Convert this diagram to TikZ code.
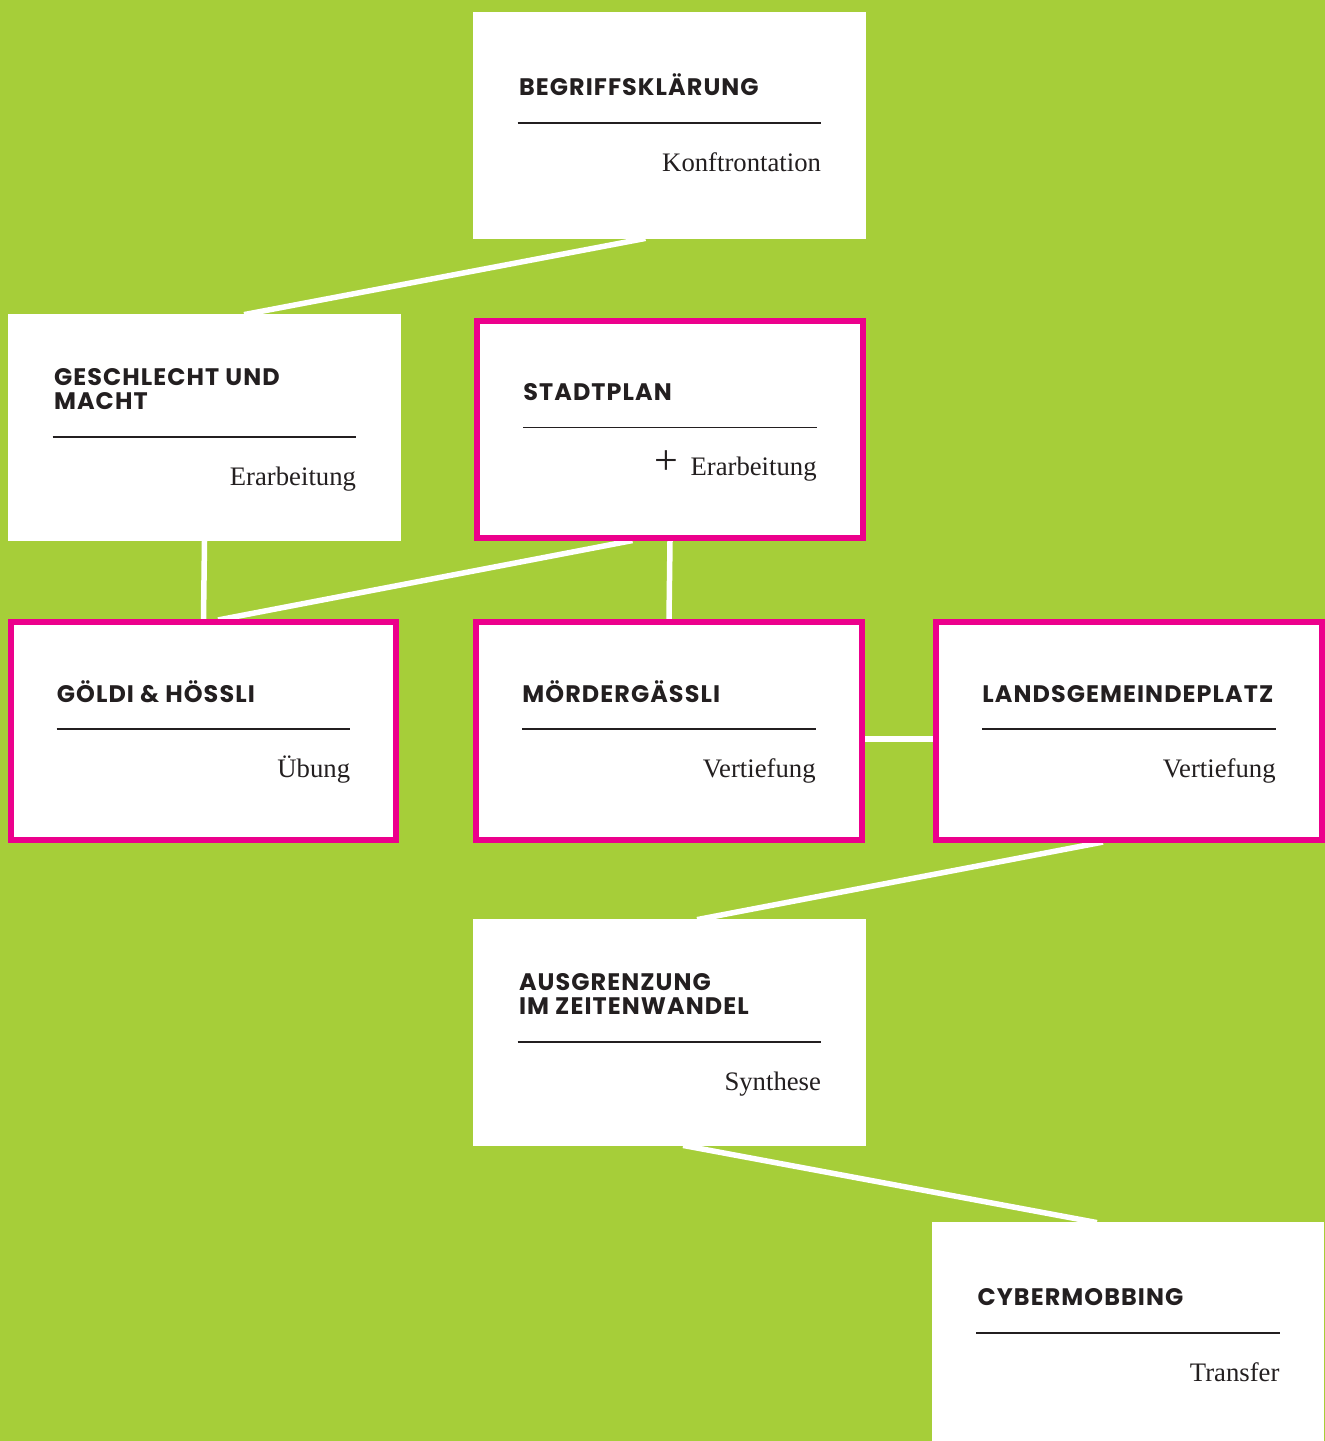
\documentclass[tikz,border=0pt]{standalone}
\usepackage{fontspec}
\setmainfont{Liberation Serif}
\setsansfont{Poppins}[LetterSpace=4.5]
\usepackage{tikz}
\usepackage{xcolor}
\usetikzlibrary{positioning, calc, backgrounds}
\definecolor{meadow}{HTML}{A6CE39}
\definecolor{signal}{HTML}{EC008C}
\definecolor{ink}{HTML}{231F20}
\tikzstyle{card} = [rectangle, fill=white, inner sep=0pt,
                    minimum width=7.86cm, minimum height=4.54cm]
\tikzstyle{stopbox} = [rectangle, fill=white, draw=signal, line width=0.12cm,
                       inner sep=0pt, minimum width=7.72cm, minimum height=4.36cm]
\tikzstyle{title} = [anchor=base west, inner sep=0pt, align=left, text=ink,
                     font=\sffamily\bfseries\fontsize{13.6}{13.6}\selectfont]
\tikzstyle{phase} = [anchor=base east, inner sep=0pt, text=ink,
                     font=\fontsize{15.2}{17}\selectfont]
\tikzstyle{divider} = [draw=ink, line width=0.035cm]
\tikzstyle{trail} = [draw=white, line width=0.11cm, shorten <=-0.1cm, shorten >=-0.1cm]

\begin{document}
\begin{tikzpicture}[x=0.02cm, y=-0.02cm]
    \useasboundingbox (0,0) rectangle (1325,1441);
    \begin{scope}[on background layer]
        \fill[meadow] (0,0) rectangle (1325,1441);
    \end{scope}

    % Stations
    \node[card] (klaerung) at (669.5,125.5) {};
    \node[card] (geschlecht) at (204.5,427.5) {};
    \node[stopbox] (stadtplan) at (670,429.5) {};
    \node[stopbox] (goeldi) at (203.5,731) {};
    \node[stopbox] (moerder) at (669,731) {};
    \node[stopbox] (landsgemeinde) at (1129,731) {};
    \node[card] (ausgrenzung) at (669.5,1032.5) {};
    \node[card] (cyber) at (1128,1335.5) {};

    % Begriffsklaerung
    \node[title] (klaerung-t) at ($(klaerung.north west)+(46,84)$) {BEGRIFFSKLÄRUNG};
    \draw[divider] ($(klaerung.north west)+(45,111)$) -- ($(klaerung.north east)+(-45,111)$);
    \node[phase] (klaerung-p) at ($(klaerung.north east)+(-45,160)$) {Konftrontation};

    % Geschlecht und Macht (base = last line)
    \node[title] (geschlecht-t) at ($(geschlecht.north west)+(46,96)$) {GESCHLECHT UND\\MACHT};
    \draw[divider] ($(geschlecht.north west)+(45,123)$) -- ($(geschlecht.north east)+(-45,123)$);
    \node[phase] (geschlecht-p) at ($(geschlecht.north east)+(-45,172)$) {Erarbeitung};

    % Stadtplan
    \node[title] (stadtplan-t) at ($(stadtplan.north west)+(49,83)$) {STADTPLAN};
    \draw[divider] ($(stadtplan.north west)+(49,110)$) -- ($(stadtplan.north east)+(-49,110)$);
    \node[phase] (stadtplan-p) at ($(stadtplan.north east)+(-49,158)$) {Erarbeitung};
    \node[phase, anchor=center, font=\fontsize{24}{24}\selectfont] (stadtplan-plus)
        at ($(stadtplan.north west)+(192,145)$) {+};

    % Goeldi & Hoessli
    \node[title] (goeldi-t) at ($(goeldi.north west)+(49,83)$) {GÖLDI \& HÖSSLI};
    \draw[divider] ($(goeldi.north west)+(49,110)$) -- ($(goeldi.north east)+(-49,110)$);
    \node[phase] (goeldi-p) at ($(goeldi.north east)+(-49,158)$) {Übung};

    % Moerdergaessli
    \node[title] (moerder-t) at ($(moerder.north west)+(49,83)$) {MÖRDERGÄSSLI};
    \draw[divider] ($(moerder.north west)+(49,110)$) -- ($(moerder.north east)+(-49,110)$);
    \node[phase] (moerder-p) at ($(moerder.north east)+(-49,158)$) {Vertiefung};

    % Landsgemeindeplatz
    \node[title] (landsgemeinde-t) at ($(landsgemeinde.north west)+(49,83)$) {LANDSGEMEINDEPLATZ};
    \draw[divider] ($(landsgemeinde.north west)+(49,110)$) -- ($(landsgemeinde.north east)+(-49,110)$);
    \node[phase] (landsgemeinde-p) at ($(landsgemeinde.north east)+(-49,158)$) {Vertiefung};

    % Ausgrenzung im Zeitenwandel (base = last line)
    \node[title] (ausgrenzung-t) at ($(ausgrenzung.north west)+(46,96)$) {AUSGRENZUNG\\IM ZEITENWANDEL};
    \draw[divider] ($(ausgrenzung.north west)+(45,123)$) -- ($(ausgrenzung.north east)+(-45,123)$);
    \node[phase] (ausgrenzung-p) at ($(ausgrenzung.north east)+(-45,172)$) {Synthese};

    % Cybermobbing
    \node[title] (cyber-t) at ($(cyber.north west)+(46,84)$) {CYBERMOBBING};
    \draw[divider] ($(cyber.north west)+(45,111)$) -- ($(cyber.north east)+(-45,111)$);
    \node[phase] (cyber-p) at ($(cyber.north east)+(-45,160)$) {Transfer};

    % Connections
    \begin{scope}[on background layer]
        \draw[trail] ($(klaerung.south)+(-29,0)$) -- ($(geschlecht.north)+(44.5,0)$);
        \draw[trail] (geschlecht.south) -- (goeldi.north);
        \draw[trail] ($(stadtplan.south)+(-42.5,0)$) -- ($(goeldi.north)+(19.5,0)$);
        \draw[trail] (stadtplan.south) -- (moerder.north);
        \draw[trail] ($(moerder.east)+(0,8)$) -- ($(landsgemeinde.west)+(0,8)$);
        \draw[trail] ($(landsgemeinde.south)+(-31,0)$) -- ($(ausgrenzung.north)+(32.5,0)$);
        \draw[trail] ($(ausgrenzung.south)+(18.5,0)$) -- ($(cyber.north)+(-36,0)$);
    \end{scope}
\end{tikzpicture}
\end{document}
